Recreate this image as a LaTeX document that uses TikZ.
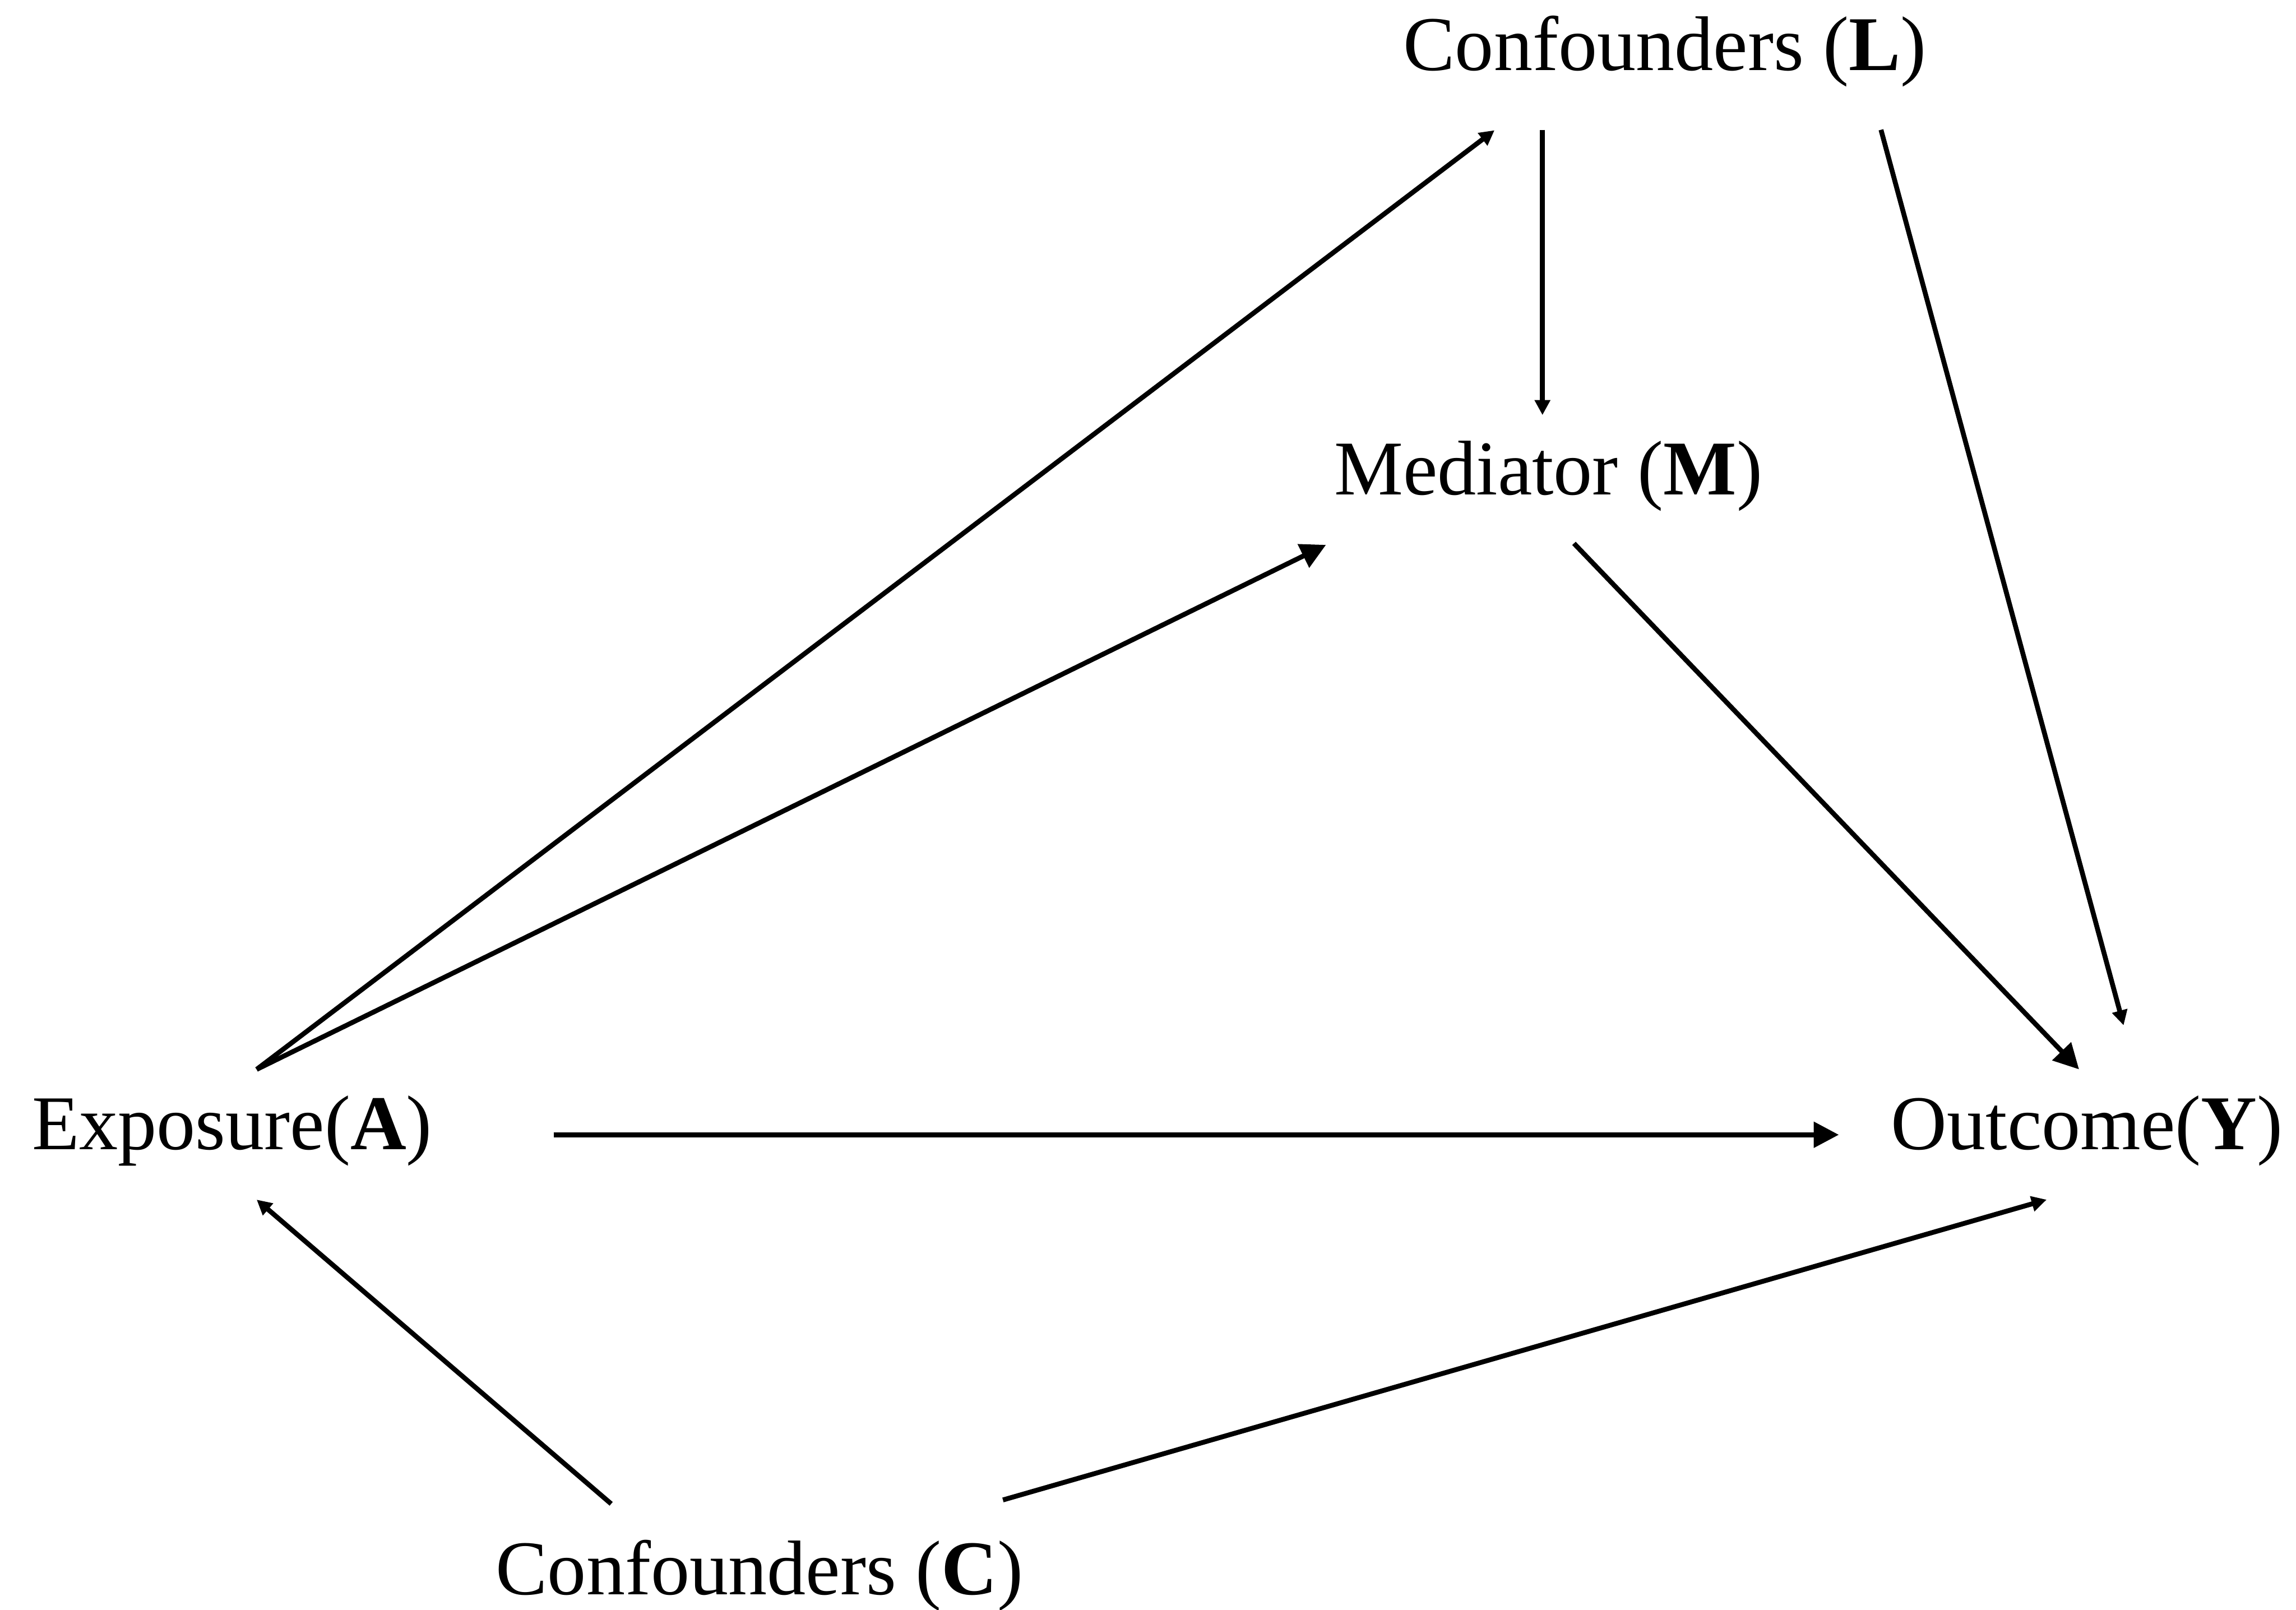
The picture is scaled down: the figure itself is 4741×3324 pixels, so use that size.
\documentclass[tikz,border=0pt]{standalone}
\usepackage{fontspec}
\setmainfont{Liberation Serif}
\usetikzlibrary{arrows.meta}
\begin{document}
\begin{tikzpicture}[x=0.01cm,y=-0.01cm,
  lbl/.style={inner sep=0pt, outer sep=0pt, anchor=base west, font=\fontsize{45.5pt}{50pt}\selectfont},
  conn/.style={line width=0.10cm, -{Triangle[length=0.31cm,width=0.31cm]}},
  bigconn/.style={line width=0.10cm, -{Triangle[length=0.52cm,width=0.52cm]}}]
\useasboundingbox (0,0) rectangle (4741,3324);
% labels
\node[lbl] (L) at (2898,145) {Confounders (\textbf{L})};
\node[lbl] (M) at (2755,1021) {Mediator (\textbf{M})};
\node[lbl] (A) at (66,2373) {Exposure(\textbf{A})};
\node[lbl] (Y) at (3905,2373) {Outcome(\textbf{Y})};
\node[lbl] (C) at (1024,3292) {Confounders (\textbf{C})};
% connector ends
\coordinate (A1) at (530,2208);
\coordinate (L1) at (3086,269);
\coordinate (M1) at (2738,1125);
\coordinate (L2) at (3185,268);
\coordinate (M2) at (3185,857);
\coordinate (L3) at (3884,268);
\coordinate (Y1) at (4385,2117);
\coordinate (M3) at (3250,1122);
\coordinate (Y2) at (4293,2208);
\coordinate (A2) at (1143,2343);
\coordinate (Y3) at (3797,2343);
\coordinate (C1) at (1262,3105);
\coordinate (A3) at (530,2477);
\coordinate (C2) at (2071,3097);
\coordinate (Y4) at (4226,2477);
% connectors
\draw[conn] (A1) -- (L1);
\draw[bigconn] (A1) -- (M1);
\draw[conn] (L2) -- (M2);
\draw[conn] (L3) -- (Y1);
\draw[bigconn] (M3) -- (Y2);
\draw[bigconn] (A2) -- (Y3);
\draw[conn] (C1) -- (A3);
\draw[conn] (C2) -- (Y4);
\end{tikzpicture}
\end{document}
